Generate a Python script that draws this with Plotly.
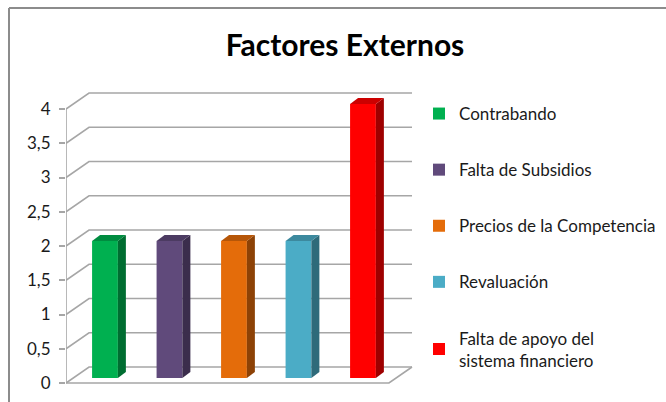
import plotly.graph_objects as go

# ---------------- data ----------------
categories = ["Contrabando", "Falta de Subsidios", "Precios de la Competencia",
              "Revaluación", "Falta de apoyo del<br>sistema financiero"]
values = [2, 2, 2, 2, 4]
tick_values = [0, 0.5, 1, 1.5, 2, 2.5, 3, 3.5, 4]
tick_labels = ["0", "0,5", "1", "1,5", "2", "2,5", "3", "3,5", "4"]
title_text = "Factores Externos"

# ---------------- style ----------------
front_colors = ["#00B050", "#604A7B", "#E46C0A", "#4BACC6", "#FF0000"]


def shade(hex_color, f):
    h = hex_color.lstrip("#")
    r, g, b = (int(h[i:i + 2], 16) for i in (0, 2, 4))
    return "#%02x%02x%02x" % (int(r * f), int(g * f), int(b * f))


side_colors = [shade(c, 0.62) for c in front_colors]
top_colors = [shade(c, 0.80) for c in front_colors]

# 3D projection parameters (in axis units)
BAR_W = 0.40
DU_FLOOR, DV_FLOOR = 0.357, 0.234      # depth of the floor / back wall
DU1, DV1 = 0.116, 0.073                # bar front plane
DU2, DV2 = 0.240, 0.161                # bar back plane
X_LEFT, X_RIGHT = -0.4884, 4.519       # floor front edge extent

GRID_COLOR = "#A6A6A6"
TEXT_COLOR = "#1a1a1a"
FONT = "Lato"

fig = go.Figure()

# front faces as real bars
for i, (name, v) in enumerate(zip(categories, values)):
    fig.add_trace(go.Bar(
        x=[i + DU1], y=[v], base=DV1, width=BAR_W, name=name,
        legendgroup=f"g{i}",
        marker=dict(color=front_colors[i], line=dict(width=0)),
        hoverinfo="skip",
    ))

# side and top faces of the 3D bars
for i, v in enumerate(values):
    xr1 = i + DU1 + BAR_W / 2
    xr2 = i + DU2 + BAR_W / 2
    xl1 = i + DU1 - BAR_W / 2
    xl2 = i + DU2 - BAR_W / 2
    fig.add_trace(go.Scatter(
        x=[xr1, xr1, xr2, xr2, xr1], y=[DV1, DV1 + v, DV2 + v, DV2, DV1],
        fill="toself", fillcolor=side_colors[i], mode="lines",
        line=dict(width=0, color=side_colors[i]), showlegend=False, hoverinfo="skip",
    ))
    fig.add_trace(go.Scatter(
        x=[xl1, xr1, xr2, xl2, xl1], y=[DV1 + v, DV1 + v, DV2 + v, DV2 + v, DV1 + v],
        fill="toself", fillcolor=top_colors[i], mode="lines",
        line=dict(width=0, color=top_colors[i]), showlegend=False, hoverinfo="skip",
    ))

# layout geometry (pixels)
W, H = 666, 402
pl, pr, pt, pb = 66, 0, 90, 12
plot_w = 354
pw, ph = W - pl - pr, H - pt - pb
PX_PER_U = 64.5
PX_PER_V = 68.5

shapes = []
for t in tick_values:
    shapes.append(dict(type="path", xref="x", yref="y", layer="below",
                       path=f"M {X_LEFT},{t} L {X_LEFT + DU_FLOOR},{t + DV_FLOOR} L {X_RIGHT + DU_FLOOR},{t + DV_FLOOR}",
                       line=dict(color=GRID_COLOR, width=1.6)))
shapes.append(dict(type="path", xref="x", yref="y", layer="below",
                   path=f"M {X_LEFT},0 L {X_RIGHT},0 L {X_RIGHT + DU_FLOOR},{DV_FLOOR}",
                   line=dict(color=GRID_COLOR, width=1.6)))
shapes.append(dict(type="line", xref="x", yref="y", layer="below",
                   x0=X_LEFT, x1=X_LEFT, y0=0, y1=tick_values[-1],
                   line=dict(color=GRID_COLOR, width=1.6)))
# chart-area border (left + top)
bx = (9 - pl) / pw
by = (H - pb - 8) / ph
shapes.append(dict(type="line", xref="paper", yref="paper", x0=bx, x1=bx, y0=-0.2, y1=by,
                   line=dict(color="#8C8C8C", width=2)))
shapes.append(dict(type="line", xref="paper", yref="paper", x0=bx, x1=1.2, y0=by, y1=by,
                   line=dict(color="#8C8C8C", width=2)))

fig.update_layout(
    width=W, height=H,
    margin=dict(l=pl, r=pr, t=pt, b=pb, autoexpand=False),
    paper_bgcolor="white", plot_bgcolor="white",
    barmode="overlay",
    separators=",.",
    title=dict(text=f"<b>{title_text}</b>", x=0.518, xref="container", xanchor="center",
               y=1 - 45 / H, yref="container", yanchor="middle",
               font=dict(family=FONT, size=30, color="#000000")),
    xaxis=dict(domain=[0, plot_w / pw], range=[X_LEFT, X_LEFT + plot_w / PX_PER_U],
               showgrid=False, zeroline=False,
               showticklabels=False, showline=False, fixedrange=True),
    yaxis=dict(range=[-7 / PX_PER_V, 293 / PX_PER_V], showgrid=False, zeroline=False, showline=False,
               tickmode="array", tickvals=tick_values, ticktext=tick_labels,
               ticks="outside", ticklen=6, tickcolor=GRID_COLOR, tickwidth=1.6,
               ticklabelstandoff=5,
               tickfont=dict(family=FONT, size=17, color=TEXT_COLOR)),
    legend=dict(x=(419 - pl) / pw, xanchor="left", y=(H - pb - 96) / ph, yanchor="top",
                font=dict(family=FONT, size=17, color=TEXT_COLOR),
                tracegroupgap=31, itemclick=False, bgcolor="rgba(0,0,0,0)"),
    shapes=shapes,
    showlegend=True,
)

fig.write_html("out.html")
